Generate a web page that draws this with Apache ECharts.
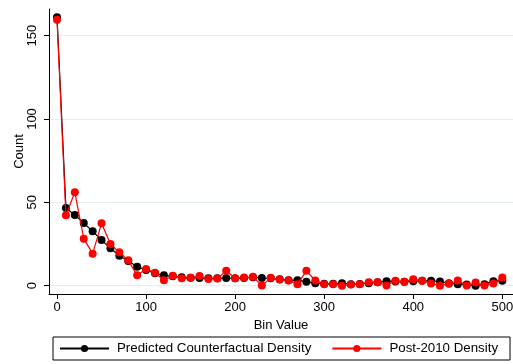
<!DOCTYPE html>
<html>
<head>
<meta charset="utf-8">
<script src="https://cdn.jsdelivr.net/npm/echarts@6/dist/echarts.min.js"></script>
<style>
html,body{margin:0;padding:0;background:#fff;}
#chart{width:513px;height:364px;}
</style>
</head>
<body>
<div id="chart"></div>
<script>
var bins = [0,10,20,30,40,50,60,70,80,90,100,110,120,130,140,150,160,170,180,190,200,210,220,230,240,250,260,270,280,290,300,310,320,330,340,350,360,370,380,390,400,410,420,430,440,450,460,470,480,490,500];
var predicted = [161,46.6,42.4,37.6,32.6,27.4,22.4,18.0,14.8,11.4,9.4,7.4,6.2,5.6,5.0,4.8,4.6,4.4,4.4,4.6,4.4,4.6,5.0,4.6,4.4,3.8,3.2,3.3,2.3,1.5,1.1,1.1,1.5,0.9,1.0,1.5,2.0,2.7,2.5,2.3,2.7,2.9,2.9,2.5,1.5,0.9,0.7,0.0,0.9,2.7,3.0];
var post2010 = [159.5,42.2,56,28.2,19.2,37.4,25,20,15.2,6.2,10.0,7.8,3.3,5.9,4.4,4.7,5.8,4.0,4.3,8.9,4.5,4.9,5.3,0.1,4.7,3.7,3.1,0.9,8.9,3.1,0.9,0.9,0.0,0.7,0.9,2.1,2.1,0.1,2.9,2.3,3.9,2.9,1.3,0.0,1.1,3.1,0.1,1.9,0.1,1.3,4.9];
var xTicks = [0,100,200,300,400,500];
var yTicks = [0,50,100,150];
var seriesNames = ['Predicted Counterfactual Density','Post-2010 Density'];

function pairs(xs, ys){ return xs.map(function(x,i){return [x, ys[i]];}); }

var chart = echarts.init(document.getElementById('chart'), null, {renderer:'canvas'});
var font = 'Liberation Sans, Arial, sans-serif';
chart.setOption({
  animation:false,
  backgroundColor:'#fff',
  grid:{left:49, right:0, top:9, bottom:70, containLabel:false, outerBoundsMode:'none'},
  xAxis:{
    type:'value', min:-9, max:512,
    name:'Bin Value', nameLocation:'middle', nameGap:20,
    nameTextStyle:{color:'#000', fontSize:13, fontFamily:font},
    axisLine:{show:true, onZero:false, lineStyle:{color:'#000', width:1}},
    axisTick:{show:true, length:5, customValues:xTicks, lineStyle:{color:'#000'}},
    axisLabel:{customValues:xTicks, color:'#000', fontSize:13, fontFamily:font, margin:7, hideOverlap:false},
    splitLine:{show:false}
  },
  yAxis:{
    type:'value', min:-5, max:166,
    name:'Count', nameLocation:'middle', nameGap:23, nameRotate:90, nameMoveOverlap:false,
    nameTextStyle:{color:'#000', fontSize:13, fontFamily:font},
    axisLine:{show:true, onZero:false, lineStyle:{color:'#000', width:1}},
    axisTick:{show:true, length:5, customValues:yTicks, lineStyle:{color:'#000'}},
    axisLabel:{customValues:yTicks, rotate:90, color:'#000', fontSize:13, fontFamily:font, margin:10},
    splitLine:{show:true, lineStyle:{color:'#e6eff0', width:1}}
  },
  legend:{
    left:53, top:337, width:450, orient:'horizontal',
    padding:[5,12,5,6],
    borderColor:'#000', borderWidth:1,
    itemWidth:49, itemHeight:9, itemGap:20,
    textStyle:{color:'#000', fontSize:13.3, fontFamily:font, padding:[0,0,0,3]},
    data:seriesNames
  },
  series:[
    {name:seriesNames[0], type:'line', data:pairs(bins,predicted),
     symbol:'circle', symbolSize:8, color:'#000',
     lineStyle:{color:'#000', width:1.2}, itemStyle:{color:'#000'}, z:2},
    {name:seriesNames[1], type:'line', data:pairs(bins,post2010),
     symbol:'circle', symbolSize:8, color:'#ff0000',
     lineStyle:{color:'#ff0000', width:1.2}, itemStyle:{color:'#ff0000'}, z:3}
  ]
});
</script>
</body>
</html>
